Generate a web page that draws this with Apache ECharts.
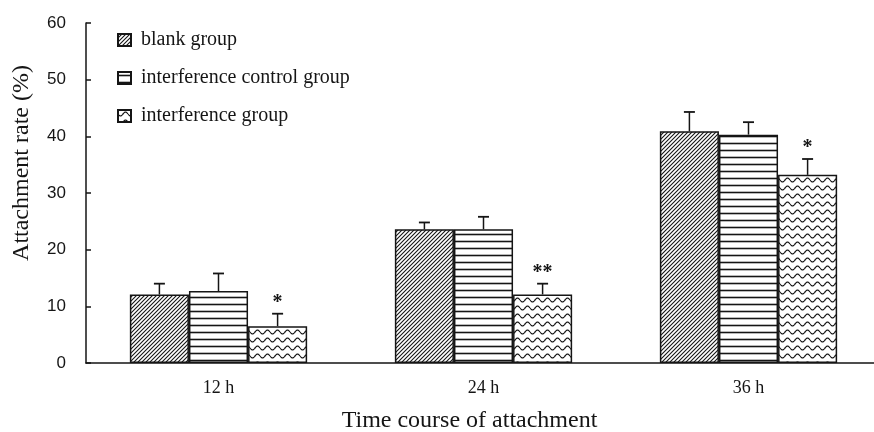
<!DOCTYPE html>
<html>
<head>
<meta charset="utf-8">
<script src="https://cdn.jsdelivr.net/npm/echarts@6/dist/echarts.min.js"></script>
<style>
html,body{margin:0;padding:0;background:#fff;}
#chart{width:874px;height:432px;}
</style>
</head>
<body>
<div id="chart"></div>
<script>
const categories = ['12 h', '24 h', '36 h'];
const seriesNames = ['blank group', 'interference control group', 'interference group'];
const blankValues = [12.1, 23.6, 40.9];
const blankErrors = [1.9, 1.2, 3.4];
const controlValues = [12.7, 23.6, 40.3];
const controlErrors = [3.1, 2.2, 2.2];
const interferenceValues = [6.5, 12.1, 33.2];
const interferenceErrors = [2.2, 1.9, 2.8];
const interferenceMarks = ['*', '**', '*'];
const yMin = 0, yMax = 60, yInterval = 10;

const INK = '#151515';
const BAR_RATIO = 0.223;

function makePattern(kind) {
  const c = document.createElement('canvas');
  let w, h;
  if (kind === 'diag') { w = 4; h = 4; }
  else if (kind === 'horiz') { w = 8; h = 7; }
  else { w = 10; h = 8; }
  c.width = w; c.height = h;
  const ctx = c.getContext('2d');
  ctx.fillStyle = '#fff';
  ctx.fillRect(0, 0, w, h);
  ctx.strokeStyle = INK;
  if (kind === 'diag') {
    ctx.lineWidth = 1.1;
    ctx.beginPath();
    ctx.moveTo(-1, h + 1); ctx.lineTo(w + 1, -1);
    ctx.moveTo(-1, 1); ctx.lineTo(1, -1);
    ctx.moveTo(w - 1, h + 1); ctx.lineTo(w + 1, h - 1);
    ctx.stroke();
  } else if (kind === 'horiz') {
    ctx.lineWidth = 1.6;
    ctx.beginPath();
    ctx.moveTo(0, 3.5); ctx.lineTo(w, 3.5);
    ctx.stroke();
  } else {
    ctx.lineWidth = 1.2;
    ctx.beginPath();
    for (let x = 0; x <= w; x += 0.5) {
      const y = 4 + 2 * Math.sin(2 * Math.PI * x / w);
      if (x === 0) ctx.moveTo(x, y); else ctx.lineTo(x, y);
    }
    ctx.stroke();
  }
  return { image: c, repeat: 'repeat' };
}

const patterns = [makePattern('diag'), makePattern('horiz'), makePattern('wave')];
const valueSets = [blankValues, controlValues, interferenceValues];
const errorSets = [blankErrors, controlErrors, interferenceErrors];

const barSeries = seriesNames.map((name, s) => ({
  name: name,
  type: 'bar',
  data: valueSets[s],
  barWidth: (BAR_RATIO * 100) + '%',
  barGap: '0%',
  itemStyle: { color: patterns[s], borderColor: INK, borderWidth: 1.5 },
  emphasis: { disabled: true },
  z: 2
}));

const errorData = [];
for (let s = 0; s < 3; s++) {
  for (let i = 0; i < categories.length; i++) {
    errorData.push([i, valueSets[s][i], errorSets[s][i], s]);
  }
}

const errorSeries = {
  type: 'custom',
  name: 'errors',
  data: errorData,
  z: 5,
  silent: true,
  renderItem: function (params, api) {
    const ci = api.value(0), v = api.value(1), e = api.value(2), s = api.value(3);
    const band = api.size([1, 0])[0];
    const bw = band * BAR_RATIO;
    const base = api.coord([ci, v]);
    const top = api.coord([ci, v + e]);
    const x = base[0] + (s - 1) * bw;
    const cap = 5.5;
    const children = [
      { type: 'line', shape: { x1: x, y1: base[1], x2: x, y2: top[1] }, style: { stroke: INK, lineWidth: 1.5 } },
      { type: 'line', shape: { x1: x - cap, y1: top[1], x2: x + cap, y2: top[1] }, style: { stroke: INK, lineWidth: 1.8 } }
    ];
    if (s === 2) {
      children.push({
        type: 'text',
        style: {
          x: x, y: top[1] - 11,
          text: interferenceMarks[ci],
          fill: INK,
          font: 'bold 20px "Liberation Serif", serif',
          align: 'center',
          verticalAlign: 'middle'
        }
      });
    }
    return { type: 'group', children: children };
  }
};

const chart = echarts.init(document.getElementById('chart'), null, { renderer: 'canvas' });
chart.setOption({
  animation: false,
  backgroundColor: '#fff',
  grid: { left: 86, right: -7, top: 23, bottom: 69, containLabel: false, outerBoundsMode: 'none' },
  legend: {
    data: seriesNames,
    orient: 'vertical',
    left: 112,
    top: 25,
    icon: 'rect',
    itemWidth: 13,
    itemHeight: 12,
    itemGap: 18,
    selectedMode: false,
    textStyle: { fontFamily: '"Liberation Serif", serif', fontSize: 20, color: INK, padding: [0, 0, 0, 5] }
  },
  xAxis: {
    type: 'category',
    data: categories,
    axisLine: { lineStyle: { color: INK, width: 1.5 } },
    axisTick: { inside: true, length: 5, lineStyle: { color: INK, width: 1.5 } },
    axisLabel: { margin: 16, fontFamily: '"Liberation Serif", serif', fontSize: 18, color: INK },
    name: 'Time course of attachment',
    nameLocation: 'middle',
    nameGap: 46,
    nameTextStyle: { fontFamily: '"Liberation Serif", serif', fontSize: 24, color: INK, padding: [0, 28, 0, 0] }
  },
  yAxis: {
    type: 'value',
    min: yMin, max: yMax, interval: yInterval,
    splitLine: { show: false },
    axisLine: { show: true, lineStyle: { color: INK, width: 1.5 } },
    axisTick: { show: true, inside: true, length: 5, lineStyle: { color: INK, width: 1.5 } },
    axisLabel: { margin: 20, fontFamily: '"Liberation Sans", Arial, sans-serif', fontSize: 17, color: INK },
    name: 'Attachment rate (%)',
    nameLocation: 'middle',
    nameGap: 52,
    nameTextStyle: { fontFamily: '"Liberation Serif", serif', fontSize: 24, color: INK, padding: [0, 0, 0, 60] }
  },
  series: barSeries.concat([errorSeries])
});
</script>
</body>
</html>
